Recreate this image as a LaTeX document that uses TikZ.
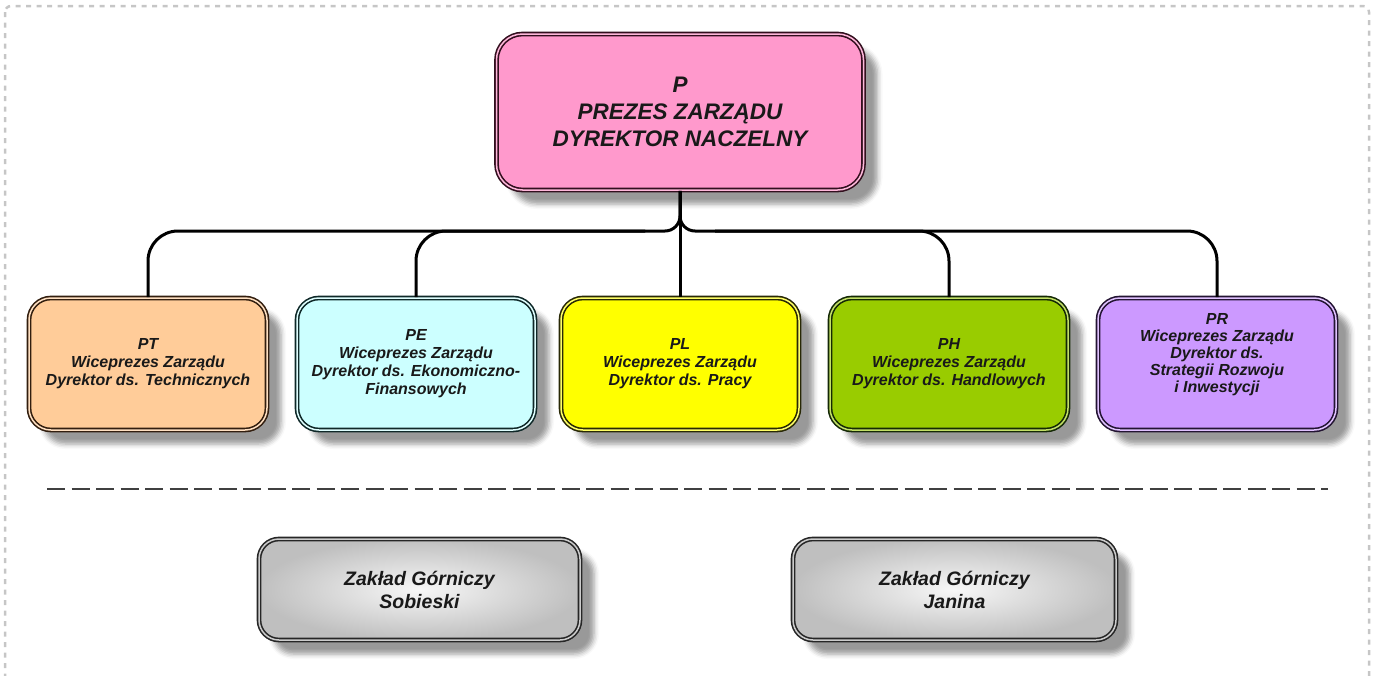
\documentclass[tikz,border=0pt]{standalone}
\usepackage{fontspec}
\setmainfont{Liberation Sans}
\usetikzlibrary{shadows.blur}
\definecolor{cP}{RGB}{255,153,204}
\definecolor{dP}{RGB}{50,15,30}
\definecolor{cT}{RGB}{255,204,153}
\definecolor{dT}{RGB}{50,30,15}
\definecolor{cE}{RGB}{204,255,255}
\definecolor{dE}{RGB}{15,40,40}
\definecolor{cL}{RGB}{255,255,0}
\definecolor{dL}{RGB}{40,40,5}
\definecolor{cH}{RGB}{153,204,0}
\definecolor{dH}{RGB}{20,40,5}
\definecolor{cR}{RGB}{204,153,255}
\definecolor{dR}{RGB}{35,20,50}
\definecolor{txt}{RGB}{25,25,25}
\begin{document}
\begin{tikzpicture}[x=1pt,y=-1pt,
  shad/.style={blur shadow={shadow xshift=14pt, shadow yshift=-14pt, shadow blur radius=5pt, shadow opacity=40}},
  basebox/.style={shape=rectangle, rounded corners=22pt, line width=1.6pt, double distance=1.5pt,
    align=center, text=txt, inner sep=0pt, shad},
  top/.style={basebox, minimum width=367pt, minimum height=156pt, rounded corners=26pt,
    font=\bfseries\itshape\fontsize{22.5}{27}\selectfont},
  vp/.style={basebox, minimum width=238pt, minimum height=132pt,
    font=\bfseries\itshape\fontsize{16}{18}\selectfont},
  plant/.style={basebox, minimum width=321pt, minimum height=101pt, rounded corners=20pt,
    draw=black!85, double=gray!40, shading=radial, inner color=gray!6, outer color=gray!50,
    font=\bfseries\itshape\fontsize{19.5}{23}\selectfont},
  conn/.style={line width=3pt, black}
]
\useasboundingbox (0,0) rectangle (1374,675);
% outer dotted frame
\draw[gray!45, line width=2.5pt, dash pattern=on 5pt off 5.5pt, rounded corners=6pt] (5,6) rectangle (1369,720);

\node[top, draw=dP, double=cP!70, fill=cP] (P) at (680,112) {P\\PREZES ZARZĄDU\\DYREKTOR NACZELNY};

\node[vp, draw=dT, double=cT!60, fill=cT] (PT) at (148,364) {PT\\Wiceprezes Zarządu\\Dyrektor ds. Technicznych};
\node[vp, draw=dE, double=cE!60, fill=cE] (PE) at (416,364) {PE\\Wiceprezes Zarządu\\Dyrektor ds. Ekonomiczno-\\Finansowych};
\node[vp, draw=dL, double=cL!60, fill=cL] (PL) at (680,364) {PL\\Wiceprezes Zarządu\\Dyrektor ds. Pracy};
\node[vp, draw=dH, double=cH!60, fill=cH] (PH) at (949,364) {PH\\Wiceprezes Zarządu\\Dyrektor ds. Handlowych};
\node[vp, draw=dR, double=cR!60, fill=cR, font=\bfseries\itshape\fontsize{16}{17}\selectfont] (PR) at (1217,364) {PR\\Wiceprezes Zarządu\\Dyrektor ds.\\Strategii Rozwoju\\i Inwestycji\\[6pt]};

% connectors
\coordinate (bl) at (645,231);
\coordinate (br) at (715,231);
\draw[conn, rounded corners=15pt] (P.south) |- (bl);
\draw[conn, rounded corners=15pt] (P.south) |- (br);
\draw[conn, rounded corners=30pt] (bl) -| (PT.north);
\draw[conn, rounded corners=30pt] (bl) -| (PE.north);
\draw[conn, rounded corners=30pt] (br) -| (PH.north);
\draw[conn, rounded corners=30pt] (br) -| (PR.north);
\draw[conn] (P.south) -- (PL.north);

% separator
\coordinate (sepL) at (47,489);
\coordinate (sepR) at (1328,489);
\draw[black!75, line width=2.5pt, dash pattern=on 18pt off 6.5pt] (sepL) -- (sepR);

\node[plant] (ZS) at (419.5,589.5) {Zakład Górniczy\\Sobieski};
\node[plant, minimum width=323pt] (ZJ) at (954.5,589.5) {Zakład Górniczy\\Janina};
\end{tikzpicture}
\end{document}
